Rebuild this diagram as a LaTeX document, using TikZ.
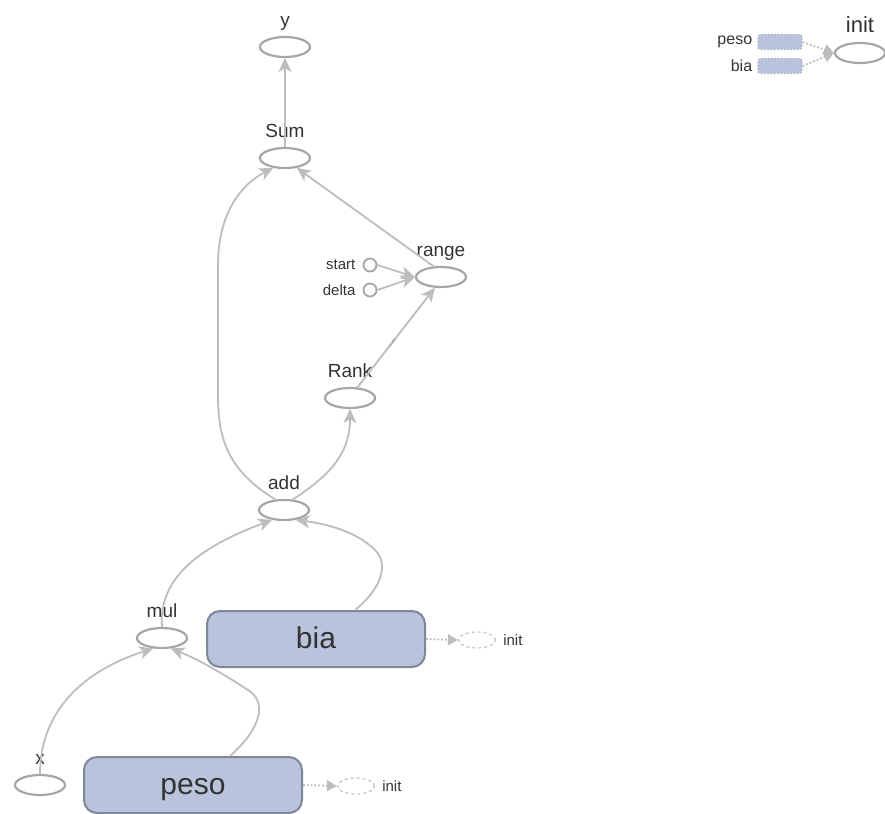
\documentclass[tikz,border=0pt]{standalone}
\usepackage{fontspec}
\setmainfont{Liberation Sans}
\usetikzlibrary{arrows.meta,shapes.geometric}
\definecolor{edgegray}{HTML}{BDBDBD}
\definecolor{opgray}{HTML}{A6A6A6}
\definecolor{varfill}{HTML}{B9C3DB}
\definecolor{vardraw}{HTML}{7D8899}
\definecolor{txtgray}{HTML}{333333}
\tikzset{
 op/.style={ellipse,draw=opgray,line width=2.2pt,minimum width=50pt,minimum height=20pt,inner sep=0},
 oplabel/.style={font=\fontsize{19}{19}\selectfont,text=txtgray,inner sep=0,text height=14pt,text depth=4pt,label distance=5pt},
 const/.style={circle,draw=opgray,line width=1.8pt,minimum size=13pt,inner sep=0},
 constlabel/.style={font=\fontsize{15}{15}\selectfont,text=txtgray,inner sep=0,label distance=7pt},
 varbox/.style={rectangle,rounded corners=13pt,draw=vardraw,fill=varfill,line width=2pt,minimum width=218pt,minimum height=56pt,font=\fontsize{30}{30}\selectfont,text=txtgray,text height=21.5pt,text depth=2pt},
 initop/.style={ellipse,draw=opgray!70,dashed,line width=1.2pt,minimum width=37pt,minimum height=16pt,inner sep=0},
 initlabel/.style={font=\fontsize{15}{15}\selectfont,text=txtgray,inner sep=0,label distance=7pt},
 refbox/.style={rectangle,rounded corners=3pt,draw=vardraw!70,dotted,fill=varfill,line width=1.3pt,minimum width=44pt,minimum height=15pt,inner sep=0},
 reflabel/.style={font=\fontsize{16}{16}\selectfont,text=txtgray,inner sep=0,label distance=5pt},
 dataedge/.style={draw=edgegray,line width=1.8pt,-{Stealth[length=14pt,width=13pt,inset=4pt]}},
 initedge/.style={draw=edgegray,line width=1.8pt,dotted,-{Triangle[length=10pt,width=11pt]}},
 edgetag/.style={font=\fontsize{4}{4}\selectfont,text=gray!80,inner sep=0}
}
\begin{document}
\begin{tikzpicture}[x=1pt,y=-1pt]
\path[use as bounding box] (0,0) rectangle (885,813);
% ops
\node[op,label={[oplabel]above:y}] (y) at (285,47) {};
\node[op,label={[oplabel]above:Sum}] (Sum) at (285,158) {};
\node[op,label={[oplabel]above:range}] (range) at (441,277) {};
\node[const,label={[constlabel]left:start}] (start) at (370,265) {};
\node[const,label={[constlabel]left:delta}] (delta) at (370,290) {};
\node[op,label={[oplabel]above:Rank}] (Rank) at (350,398) {};
\node[op,label={[oplabel]above:add}] (add) at (284,510) {};
\node[op,label={[oplabel]above:mul}] (mul) at (162,638) {};
\node[op,label={[oplabel]above:x}] (x) at (40,785) {};
% variables
\node[varbox] (bia) at (316,639) {bia};
\node[varbox] (peso) at (193,785) {peso};
\node[initop,label={[initlabel]right:init}] (biainit) at (477,640) {};
\node[initop,label={[initlabel]right:init}] (pesoinit) at (356,786) {};
% data flow
\draw[dataedge] (Sum.north) -- (y.south);
\draw[dataedge] (range.125) -- (Sum.-40);
\draw[dataedge] (start.east) -- (range.west);
\draw[dataedge] (delta.east) -- (range.west);
\draw[dataedge] (Rank.55) -- node[edgetag,sloped,pos=.45] {scalar} (range.-120);
\draw[dataedge] (add.130) .. controls (228,470) and (218,440) .. (218,395) -- (218,265) .. controls (218,215) and (240,185) .. (Sum.-140);
\draw[dataedge] (add.50) .. controls (335,472) and (350,450) .. (Rank.south);
\draw[dataedge] (mul.north) .. controls (158,575) and (205,545) .. (add.-140);
\draw[dataedge] ([xshift=39pt]bia.north) .. controls (380,590) and (390,565) .. (375,550) .. controls (360,535) and (335,525) .. (add.-40);
\draw[dataedge] (x.north) .. controls (40,710) and (85,670) .. (mul.-130);
\draw[dataedge] ([xshift=37pt]peso.north) .. controls (265,725) and (265,700) .. (248,690) .. controls (225,675) and (200,660) .. (mul.-50);
\draw[initedge] (bia.east) -- (biainit.west);
\draw[initedge] (peso.east) -- (pesoinit.west);
% init group
\node[op,label={[oplabel,font=\fontsize{22}{22}\selectfont]above:init}] (init) at (860,53) {};
\node[refbox,label={[reflabel]left:peso}] (pesoref) at (780,42) {};
\node[refbox,label={[reflabel]left:bia}] (biaref) at (780,66) {};
\draw[initedge] (pesoref.east) -- (init.west);
\draw[initedge] (biaref.east) -- (init.west);
\end{tikzpicture}
\end{document}
